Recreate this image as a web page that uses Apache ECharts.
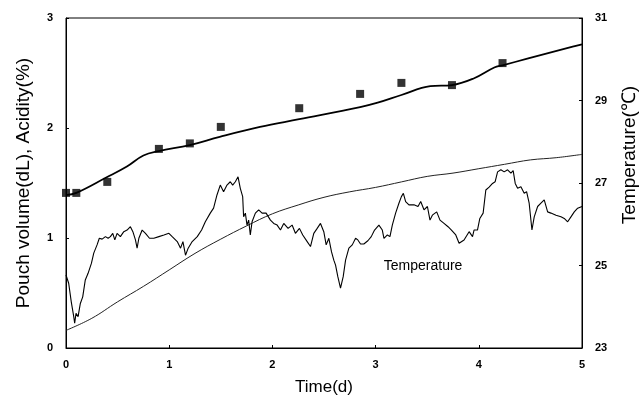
<!DOCTYPE html>
<html>
<head>
<meta charset="utf-8">
<script src="https://cdn.jsdelivr.net/npm/echarts@6/dist/echarts.min.js"></script>
<style>html,body{margin:0;padding:0;background:#fff}#c{width:644px;height:407px}</style>
</head>
<body>
<div id="c"></div>
<script>
// Measured squares: pouch volume / acidity (left axis)
var squareTime = [0, 0.1, 0.4, 0.9, 1.2, 1.5, 2.26, 2.85, 3.25, 3.74, 4.23];
var squareValue = [1.41, 1.41, 1.51, 1.81, 1.86, 2.01, 2.18, 2.31, 2.41, 2.39, 2.59];

// Fitted upper curve (left axis)
var upperTime = [0, 0.1, 0.39, 0.59, 0.75, 0.9, 1.2, 1.49, 1.88, 2.26, 2.85, 3.02, 3.25, 3.53, 3.74, 3.95, 4.15, 4.23, 4.47, 4.91, 5.0];
var upperValue = [1.39, 1.41, 1.55, 1.65, 1.75, 1.79, 1.845, 1.92, 2.01, 2.08, 2.19, 2.23, 2.30, 2.38, 2.39, 2.45, 2.55, 2.57, 2.63, 2.74, 2.76];

// Lower curve (left axis)
var lowerTime = [0, 0.25, 0.5, 0.75, 1.0, 1.25, 1.5, 1.75, 2.0, 2.25, 2.5, 2.75, 3.0, 3.25, 3.5, 3.75, 4.0, 4.25, 4.5, 4.75, 5.0];
var lowerValue = [0.16, 0.27, 0.42, 0.56, 0.71, 0.86, 0.99, 1.11, 1.22, 1.30, 1.37, 1.42, 1.46, 1.51, 1.56, 1.59, 1.63, 1.67, 1.71, 1.73, 1.76];

// Temperature record (right axis) [time(d), °C]
var temperature = [[0,24.77],[0.026,24.57],[0.051,24.12],[0.075,23.76],[0.084,23.60],[0.097,23.84],[0.117,23.76],[0.139,24.08],[0.162,24.24],[0.187,24.65],[0.214,24.81],[0.246,25.05],[0.269,25.30],[0.301,25.50],[0.323,25.66],[0.350,25.64],[0.382,25.70],[0.408,25.66],[0.430,25.70],[0.453,25.78],[0.473,25.62],[0.495,25.78],[0.527,25.70],[0.560,25.82],[0.592,25.86],[0.624,25.94],[0.648,25.82],[0.673,25.62],[0.689,25.42],[0.706,25.66],[0.738,25.86],[0.770,25.78],[0.809,25.66],[0.851,25.66],[0.900,25.70],[0.949,25.74],[0.997,25.78],[1.029,25.70],[1.078,25.58],[1.110,25.42],[1.133,25.58],[1.158,25.25],[1.184,25.42],[1.223,25.58],[1.272,25.70],[1.314,25.86],[1.350,26.06],[1.398,26.27],[1.430,26.39],[1.463,26.71],[1.495,26.95],[1.527,26.79],[1.560,26.95],[1.592,27.03],[1.615,26.95],[1.641,27.03],[1.667,27.15],[1.689,26.87],[1.712,26.67],[1.721,26.18],[1.738,26.27],[1.754,25.98],[1.770,26.10],[1.786,25.74],[1.803,26.06],[1.835,26.27],[1.867,26.35],[1.900,26.27],[1.939,26.27],[1.981,26.10],[2.013,26.02],[2.046,25.98],[2.078,25.86],[2.110,26.02],[2.152,25.90],[2.191,25.98],[2.223,25.78],[2.262,25.90],[2.294,25.74],[2.337,25.58],[2.369,25.46],[2.401,25.78],[2.434,25.90],[2.466,26.02],[2.498,25.82],[2.521,25.50],[2.547,25.66],[2.573,25.33],[2.595,25.13],[2.612,25.01],[2.634,24.73],[2.660,24.45],[2.686,24.73],[2.709,25.13],[2.741,25.42],[2.774,25.50],[2.806,25.66],[2.828,25.62],[2.854,25.52],[2.886,25.52],[2.925,25.60],[2.958,25.70],[2.990,25.86],[3.032,25.98],[3.065,25.86],[3.081,25.66],[3.114,25.74],[3.139,25.70],[3.162,25.98],[3.194,26.27],[3.226,26.51],[3.250,26.67],[3.269,26.75],[3.291,26.55],[3.323,26.47],[3.372,26.47],[3.411,26.43],[3.437,26.55],[3.469,26.35],[3.502,26.43],[3.527,26.10],[3.550,26.22],[3.592,26.30],[3.624,26.10],[3.663,26.02],[3.702,25.94],[3.735,25.86],[3.777,25.74],[3.809,25.54],[3.857,25.62],[3.906,25.82],[3.939,25.70],[3.954,25.86],[3.987,25.86],[4.010,26.14],[4.042,26.27],[4.068,26.83],[4.100,26.90],[4.133,26.99],[4.158,27.03],[4.182,27.27],[4.214,27.32],[4.246,27.27],[4.279,27.32],[4.311,27.24],[4.333,27.30],[4.353,26.99],[4.376,26.87],[4.408,26.91],[4.440,26.75],[4.463,26.79],[4.488,26.51],[4.515,25.86],[4.537,26.18],[4.570,26.43],[4.602,26.51],[4.634,26.59],[4.667,26.30],[4.699,26.27],[4.748,26.22],[4.796,26.18],[4.828,26.14],[4.861,26.06],[4.893,26.18],[4.925,26.30],[4.958,26.39],[5.0,26.43]];

var temperatureLabel = {text: 'Temperature', time: 3.46, value: 24.99};

function zip(a, b) { return a.map(function (v, i) { return [v, b[i]]; }); }

var font = 'Liberation Sans, Arial, sans-serif';
var chart = echarts.init(document.getElementById('c'), null, {renderer: 'canvas'});
chart.setOption({
  animation: false,
  backgroundColor: '#fff',
  grid: {left: 66, right: 62, top: 18, bottom: 59, show: true, borderColor: '#000', borderWidth: 1,
         containLabel: false, outerBoundsMode: 'none'},
  xAxis: {
    type: 'value', min: 0, max: 5, interval: 1,
    name: 'Time(d)', nameLocation: 'middle', nameGap: 31,
    nameTextStyle: {fontFamily: font, fontSize: 17, color: '#000'},
    axisLine: {lineStyle: {color: '#000', width: 1}},
    axisTick: {inside: true, length: 3, lineStyle: {color: '#000'}},
    axisLabel: {fontFamily: font, fontSize: 11, fontWeight: 'bold', color: '#000', margin: 11},
    splitLine: {show: false}
  },
  yAxis: [{
    type: 'value', min: 0, max: 3, interval: 1, position: 'left',
    name: 'Pouch volume(dL), Acidity(%)', nameLocation: 'middle', nameGap: 33,
    nameTextStyle: {fontFamily: font, fontSize: 19, color: '#000'},
    axisLine: {show: true, lineStyle: {color: '#000', width: 1}},
    axisTick: {show: true, inside: true, length: 3, lineStyle: {color: '#000'}},
    axisLabel: {fontFamily: font, fontSize: 11, fontWeight: 'bold', color: '#000', margin: 13},
    splitLine: {show: false}
  }, {
    type: 'value', min: 23, max: 31, interval: 2, position: 'right',
    name: 'Temperature(℃)', nameLocation: 'middle', nameGap: 38, nameRotate: 90,
    nameTextStyle: {fontFamily: font, fontSize: 19, color: '#000', padding: [0, 0, 0, 56]},
    axisLine: {show: true, lineStyle: {color: '#000', width: 1}},
    axisTick: {show: true, inside: true, length: 3, lineStyle: {color: '#000'}},
    axisLabel: {fontFamily: font, fontSize: 11, fontWeight: 'bold', color: '#000', margin: 13},
    splitLine: {show: false}
  }],
  series: [{
    type: 'line', yAxisIndex: 0, data: zip(upperTime, upperValue), smooth: 0.4,
    symbol: 'none', lineStyle: {color: '#000', width: 1.8}
  }, {
    type: 'line', yAxisIndex: 0, data: zip(lowerTime, lowerValue), smooth: 0.4,
    symbol: 'none', lineStyle: {color: '#222', width: 1}
  }, {
    type: 'line', yAxisIndex: 1, data: temperature, smooth: false,
    symbol: 'none', lineStyle: {color: '#000', width: 1.1},
    markPoint: {
      symbol: 'circle', symbolSize: 2,
      itemStyle: {color: 'rgba(0,0,0,0)'},
      label: {show: true, position: 'inside', formatter: temperatureLabel.text, fontFamily: font, fontSize: 14, color: '#000'},
      data: [{coord: [temperatureLabel.time, temperatureLabel.value]}]
    }
  }, {
    type: 'scatter', yAxisIndex: 0, data: zip(squareTime, squareValue),
    symbol: 'rect', symbolSize: 8, itemStyle: {color: '#000'}
  }]
});
</script>
</body>
</html>
